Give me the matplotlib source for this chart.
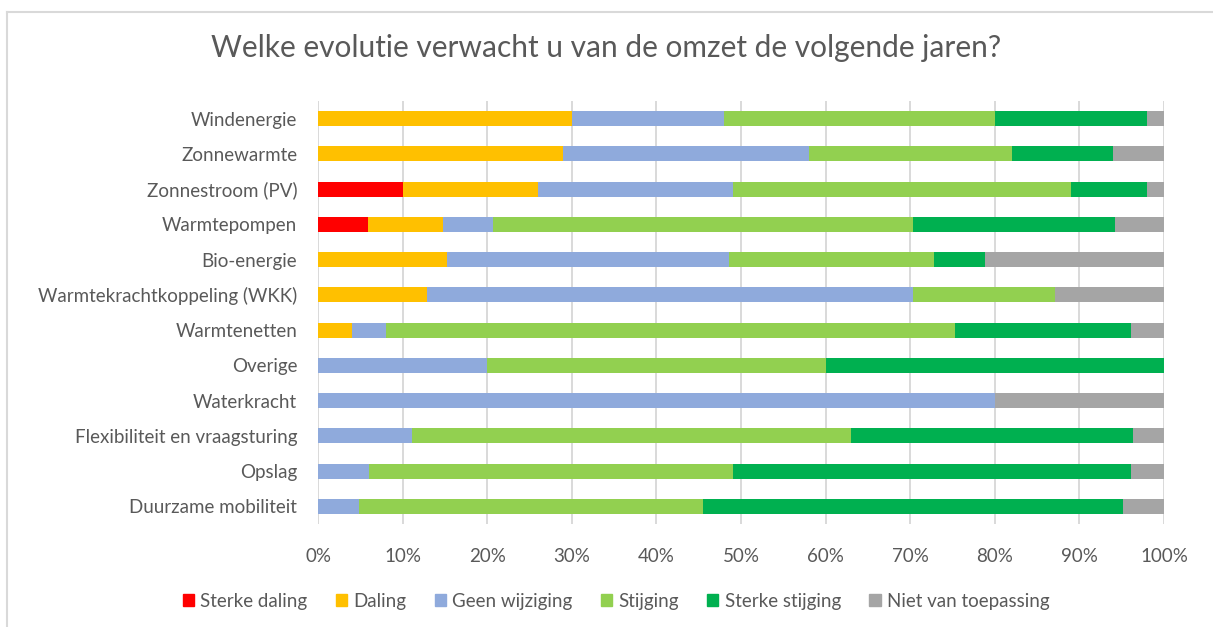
import numpy as np
import matplotlib
matplotlib.use("Agg")
import matplotlib.pyplot as plt
from matplotlib.lines import Line2D
from matplotlib.ticker import FuncFormatter, MultipleLocator

plt.rcParams['font.family'] = ['Lato', 'DejaVu Sans']

# data (percent of answers)
categories = ["Windenergie", "Zonnewarmte", "Zonnestroom (PV)", "Warmtepompen",
              "Bio-energie", "Warmtekrachtkoppeling (WKK)", "Warmtenetten",
              "Overige", "Waterkracht", "Flexibiliteit en vraagsturing",
              "Opslag", "Duurzame mobiliteit"]
series_names = ["Sterke daling", "Daling", "Geen wijziging", "Stijging",
                "Sterke stijging", "Niet van toepassing"]

sterke_daling   = [0,    0,    10,   5.9,  0,    0,    0,    0,  0,  0,    0,    0]
daling          = [30,   29,   16,   8.9,  15.2, 12.9, 4.0,  0,  0,  0,    0,    0]
geen_wijziging  = [18,   29,   23,   5.9,  33.4, 57.4, 4.0,  20, 80, 11.1, 6.0,  4.9]
stijging        = [32,   24,   40,   49.6, 24.2, 16.8, 67.3, 40, 0,  51.9, 43.0, 40.6]
sterke_stijging = [18,   12,   9,    23.9, 6.0,  0,    20.8, 40, 0,  33.3, 47.1, 49.6]
niet_van_toep   = [2,    6,    2,    5.8,  21.2, 12.9, 3.9,  0,  20, 3.7,  3.9,  4.9]

colors = ["#FF0000", "#FFC000", "#8FAADC", "#92D050", "#00B050", "#A5A5A5"]
TEXT = "#595959"

fig = plt.figure(figsize=(12.13, 6.27), dpi=100)
ax = fig.add_axes([318 / 1213, 103 / 627, 846 / 1213, 423 / 627])

y = np.arange(len(categories))
left = np.zeros(len(categories))
all_series = [sterke_daling, daling, geen_wijziging, stijging, sterke_stijging, niet_van_toep]
for name, vals, c in zip(series_names, all_series, colors):
    vals = np.array(vals, dtype=float)
    ax.barh(y, vals, left=left, height=0.43, color=c, label=name, zorder=3)
    left += vals

ax.set_xlim(0, 100)
ax.set_ylim(len(categories) - 0.5, -0.5)
ax.set_yticks(y)
ax.set_yticklabels(categories)
ax.xaxis.set_major_locator(MultipleLocator(10))
ax.xaxis.set_major_formatter(FuncFormatter(lambda v, p: f"{v:.0f}%"))
ax.tick_params(axis='both', length=0, labelsize=13.5, colors=TEXT)
ax.tick_params(axis='x', pad=17)
ax.tick_params(axis='y', pad=15)
ax.grid(axis='x', color="#D9D9D9", linewidth=1.4, zorder=0)
for s in ax.spines.values():
    s.set_visible(False)

fig.text(0.5, 1 - 48 / 627, "Welke evolutie verwacht u van de omzet de volgende jaren?",
         ha='center', va='center', fontsize=21.5, color=TEXT)

handles = [plt.Rectangle((0, 0), 1, 1, color=c) for c in colors]
fig.legend(handles, series_names, loc='center', bbox_to_anchor=(0.508, 1 - 601 / 627),
           ncol=6, frameon=False, fontsize=13.5, labelcolor=TEXT,
           handlelength=0.6, handleheight=0.6, handletextpad=0.35, columnspacing=1.5)

# chart border (top and left only visible in the crop)
fig.add_artist(Line2D([7 / 1213, 7 / 1213], [0, 1 - 12 / 627], transform=fig.transFigure,
                      color="#D9D9D9", linewidth=1.5))
fig.add_artist(Line2D([7 / 1213, 1], [1 - 12 / 627, 1 - 12 / 627], transform=fig.transFigure,
                      color="#D9D9D9", linewidth=1.5))

fig.savefig("out.png", dpi=100)
